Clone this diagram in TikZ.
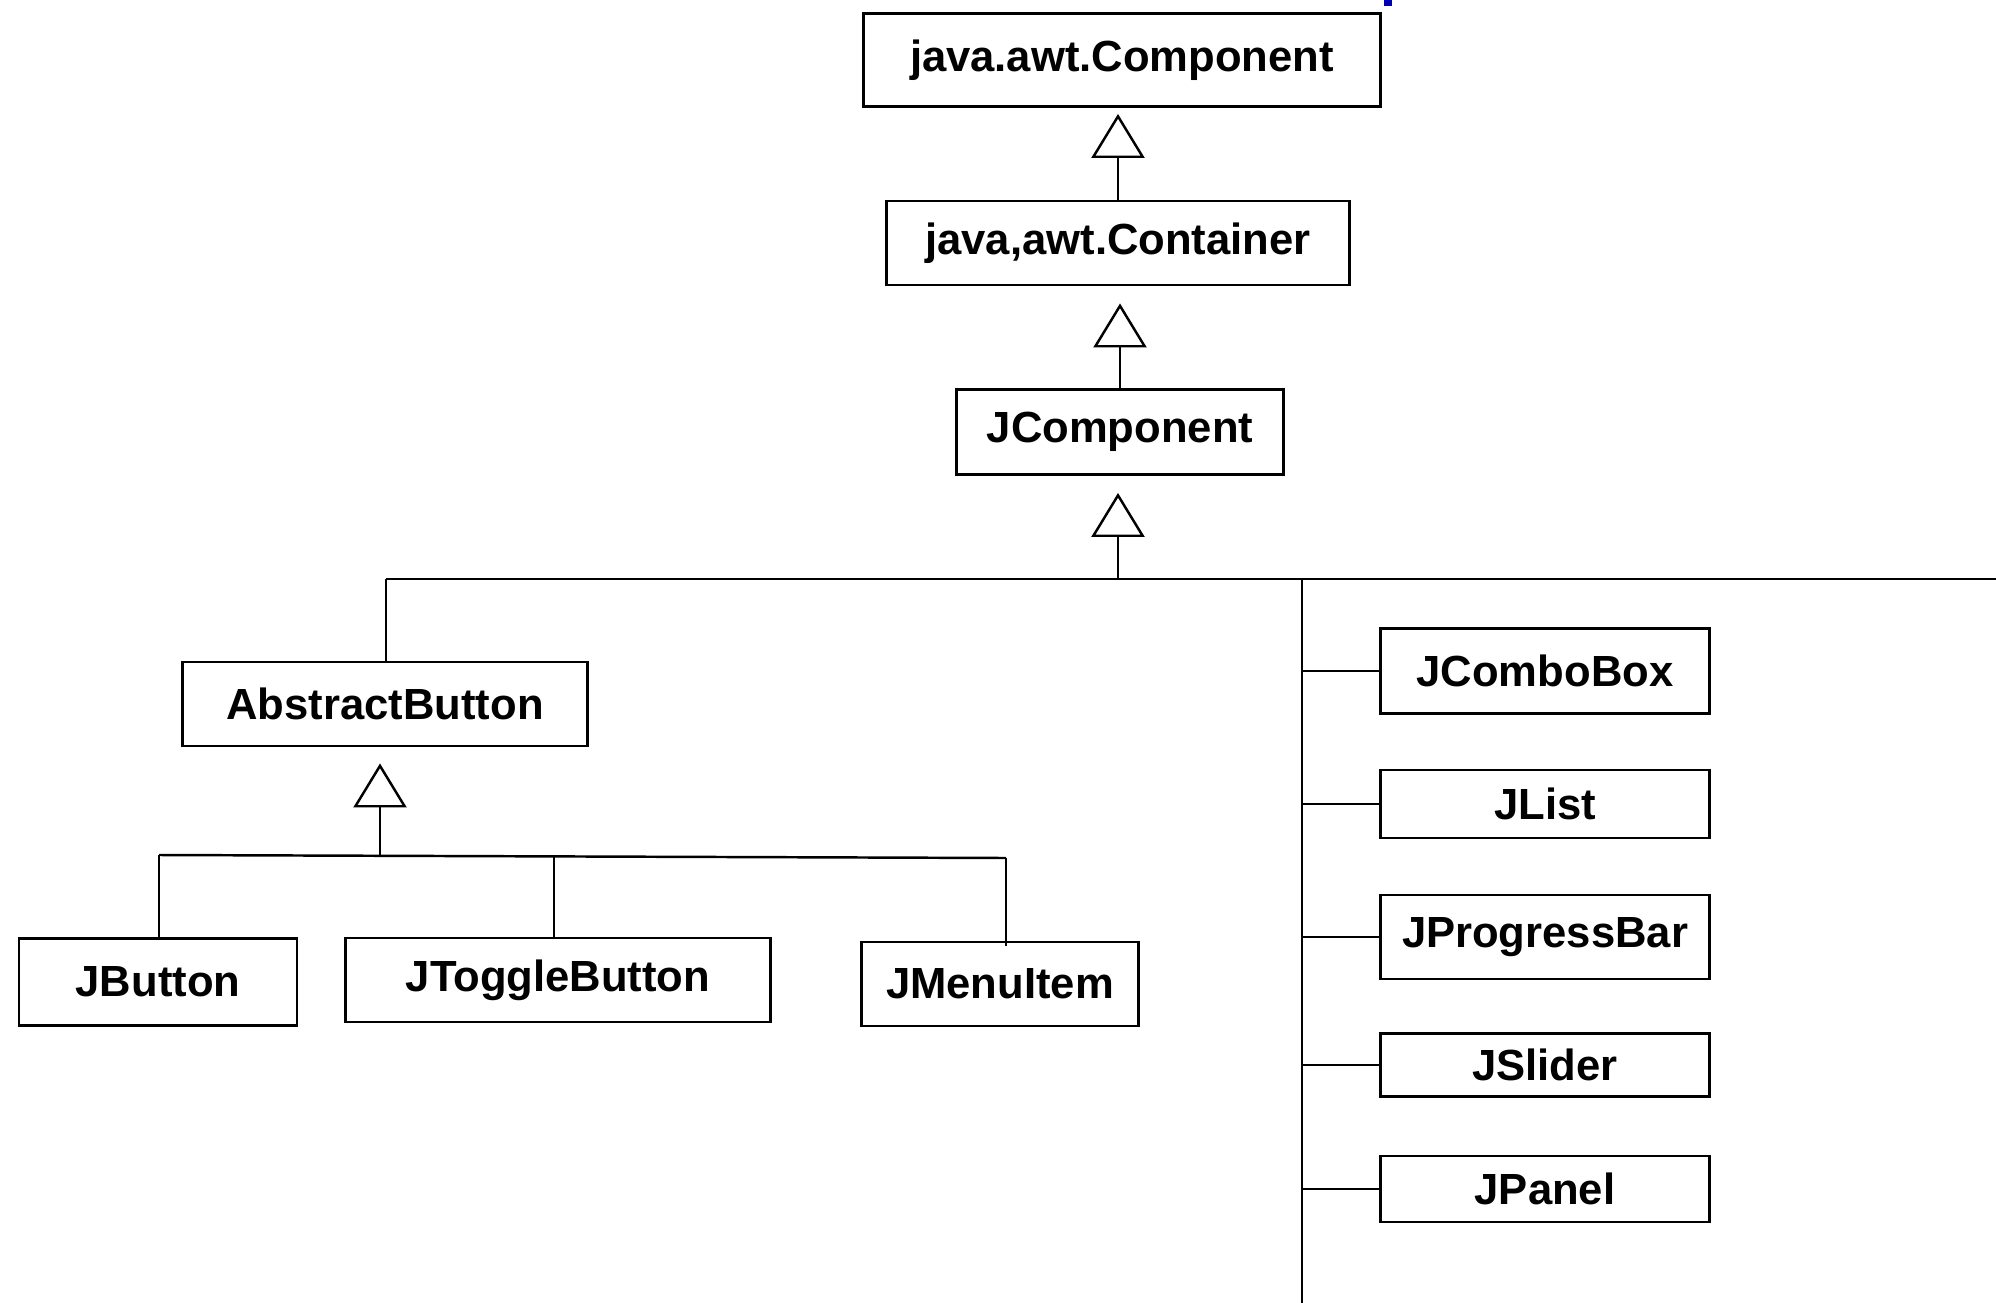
\documentclass[tikz,border=0pt]{standalone}
\usepackage{fontspec}
\setmainfont{Liberation Sans}
\usetikzlibrary{arrows.meta}
\begin{document}
\begin{tikzpicture}[x=0.01cm,y=-0.01cm,line width=0.7pt,>={Triangle[open,length=4.4mm,width=5.3mm]},
	cls/.style={draw,line width=0.8pt,inner sep=0pt,font=\fontsize{12.4}{14}\selectfont\bfseries}]
	\useasboundingbox (0,0) rectangle (1996,1303);
	\fill[blue!70!black] (1384,0) rectangle (1392,6);
	% top of the hierarchy
	\node[cls,minimum width=5.17cm,minimum height=0.93cm] (comp) at (1122,60) {java.awt.Component};
	\node[cls,minimum width=4.63cm,minimum height=0.84cm] (cont) at (1118,243) {java,awt.Container};
	\node[cls,minimum width=3.27cm,minimum height=0.85cm] (jcomp) at (1120,432) {JComponent};
	\draw[->,shorten >=0.6mm] (cont.north) -- (cont.north |- comp.south);
	\draw[->,shorten >=1.7mm] (jcomp.north) -- (jcomp.north |- cont.south);
	\coordinate (jbus) at (1118,579);
	\draw[->,shorten >=1.7mm] (jbus) -- (jbus |- jcomp.south);
	% buttons
	\coordinate (abus) at (386,579);
	\coordinate (bend) at (1996,579);
	\draw (abus) -- (bend);
	\node[cls,minimum width=4.04cm,minimum height=0.84cm] (abtn) at (385,704) {AbstractButton};
	\draw (abus) -- (abus |- abtn.north);
	\node[cls,minimum width=2.78cm,minimum height=0.87cm] (jbtn) at (158,982) {JButton};
	\node[cls,minimum width=4.25cm,minimum height=0.84cm] (jtog) at (558,980) {JToggleButton};
	\node[cls,minimum width=2.77cm,minimum height=0.84cm] (jmenu) at (1000,984) {JMenuItem};
	\coordinate (bbus) at (380,856);
	\draw[->,shorten >=1.6mm] (bbus) -- (bbus |- abtn.south);
	\draw (159,855) coordinate (b1) -- (1006,858) coordinate (b3);
	\draw (b1) -- (b1 |- jbtn.north);
	\draw (554,856) coordinate (b2) -- (b2 |- jtog.north);
	\draw (b3) -- ([yshift=-0.5mm]b3 |- jmenu.north);
	% other components
	\coordinate (rbus) at (1302,579);
	\coordinate (rend) at (1302,1303);
	\draw (rbus) -- (rend);
	\node[cls,minimum width=3.29cm,minimum height=0.85cm] (jcombo) at (1545,671) {JComboBox};
	\node[cls,minimum width=3.29cm,minimum height=0.68cm] (jlist) at (1545,804) {JList};
	\node[cls,minimum width=3.29cm,minimum height=0.84cm] (jprog) at (1545,937) {JProgressBar};
	\node[cls,minimum width=3.29cm,minimum height=0.63cm] (jslid) at (1545,1065) {JSlider};
	\node[cls,minimum width=3.29cm,minimum height=0.66cm] (jpan) at (1545,1189) {JPanel};
	\draw (rbus |- jcombo.west) -- (jcombo.west);
	\draw (rbus |- jlist.west) -- (jlist.west);
	\draw (rbus |- jprog.west) -- (jprog.west);
	\draw (rbus |- jslid.west) -- (jslid.west);
	\draw (rbus |- jpan.west) -- (jpan.west);
\end{tikzpicture}
\end{document}
